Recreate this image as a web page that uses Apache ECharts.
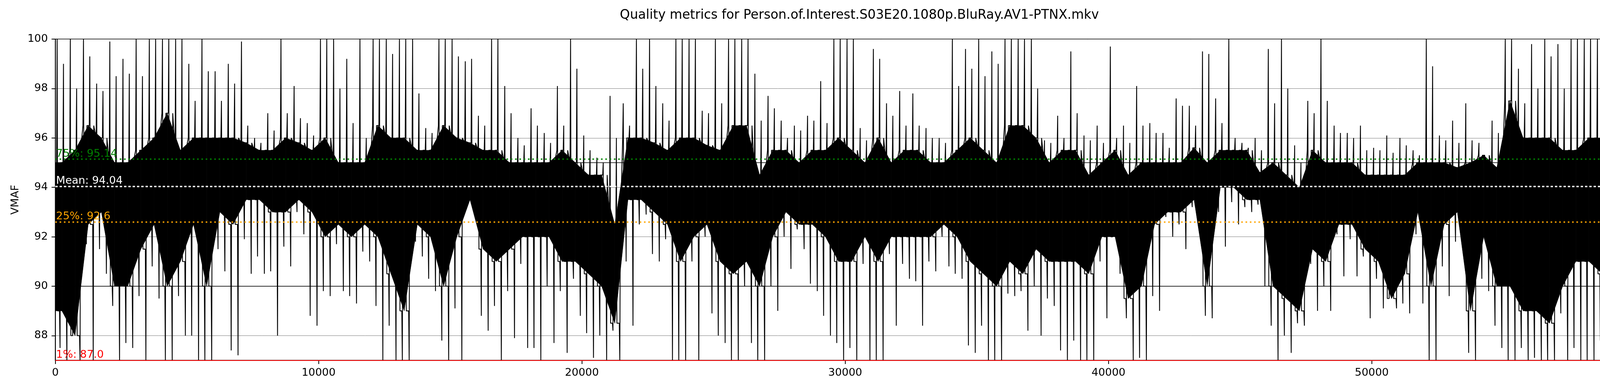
<!DOCTYPE html>
<html><head><meta charset="utf-8">
<script src="https://cdn.jsdelivr.net/npm/echarts@6/dist/echarts.min.js"></script>
<style>html,body{margin:0;padding:0;background:#fff}#c{width:4400px;height:1000px}</style>
</head><body><div id="c"></div>
<script>
const TITLE = 'Quality metrics for Person.of.Interest.S03E20.1080p.BluRay.AV1-PTNX.mkv';
const TOTAL_FRAMES = 62733;
const BIN = 500;
const xTicks = [0, 10000, 20000, 30000, 40000, 50000, 60000];
const yTicks = [88, 90, 92, 94, 96, 98, 100];
const MEAN = 94.04, P1 = 87.0, P25 = 92.6, P75 = 95.14;
const legendLines = ['Frames: 62733', 'Mean:94.04', '1%: 87.0', '25%: 92.6', '75%: 95.14'];

// per 500-frame bin: dense core band (low/high), highest and second-highest spike, lowest and second-lowest dip
const coreLow = [
 89,88,92.5,93,90,90,91.5,92.5,90,91,92.5,90,93,92.5,93.5,93.5,93,93,
 93.5,93,92,92.5,92,92.5,92,90.5,89,92.5,92,90,92,93.5,91.5,91,91.5,92,
 92,92,91,91,90.5,90,88.5,93.5,93.5,93,92.5,91,92,92.5,91,90.5,91,90,
 92,93,92.5,92.5,92,91,91,92,91,92,92,92,92,92.5,92,91,90.5,90,
 91,90.5,91.5,91,91,91,90.5,92,92,89.5,90,92.5,93,93,93.5,90,94,94,
 93.5,93.5,90,89.5,89,91.5,91,92.5,92.5,91.5,91,89.5,90.5,93,90,92.5,93,89,
 92,90,90,89,89,88.5,90,91,91,90.5,90.5,92,92.5,91,90,92,null,94];
const coreHigh = [
 95,95.5,96.5,96,95,95,95.5,96,97,95.5,96,96,96,96,95.8,95.5,95.5,96,
 95.8,95.5,96,95,95,95,96.5,96,96,95.5,95.5,96.5,96,95.8,95.5,95.5,95,95,
 95,95,95.5,95,94.5,94.5,92.5,96,96,95.8,95.5,96,96,95.7,95.5,96.5,96.5,94.5,
 95.5,95.5,95,95.5,95.5,96,95.5,95,96,95,95.5,95.5,95,95,95.5,96,95.5,95,
 96.5,96.5,96,95,95.5,95.5,94.5,95,95.5,94.5,95,95,95,95,95.6,95,95.5,95.5,
 95.5,94.6,95,94.5,94,95.5,95,95,95,94.5,94.5,94.5,94.5,95,95,95,94.8,95,
 95.3,94.8,97.5,96,96,96,95.5,95.5,96,96,96.5,95.5,95,95.5,96,96,null,96.5];
const spikeMax = [
 100,100,100,98.2,99.9,99.2,100,100,100,100,99,100,98.7,99,99.9,96,97,100,
 98.1,96.6,100,100,99.2,100,100,100,100,100,96.4,100,100,99.1,96.9,100,98.1,96,
 97.2,96.2,98.1,100,96.1,95.2,97.7,97.4,100,100,97.4,100,100,97.1,100,100,100,98.6,
 97.7,96.7,96.5,96.9,98.3,100,100,96.4,99.6,97.4,97.9,97.8,96.4,96,100,99.6,100,99.5,
 100,100,100,95.9,96.9,99.5,96.1,96.5,99.7,96.5,98.1,96.6,96.2,97.6,97.3,99.5,97.6,100,
 95.8,96,99.6,100,95.7,97.5,100,96.5,96.2,96.5,95.6,96.1,96,95.5,100,96.1,96.7,97.4,
 95.8,96.7,100,98.8,99.8,100,99.8,100,100,100,100,98.8,97.5,100,100,97.6,null,98.2];
const spikeMax2 = [
 99,98,99.3,97.9,98.5,98.6,98.5,100,100,100,97.5,98.7,97.5,98.2,96.5,95.8,96.3,97,
 96.8,96.1,100,98,96.6,96,100,99.4,100,97.8,96.2,100,99.3,99.2,96.5,100,97,95.7,
 96.5,95.8,96.5,98.8,95.5,95,96,96.5,98.8,98.1,96.7,100,100,97,97.4,100,100,96.7,
 97.2,96,96.3,96.7,96.6,100,100,95.9,99.2,96.9,96.5,96.5,96,95.8,98.1,98.8,98.5,99,
 100,100,98,95.8,96,97,95.9,95.8,96,95.8,96.5,96.2,95.6,97.3,96.5,99.4,96.6,96,
 95.6,95.5,97.4,98,95,97,97.5,96.2,96,95.5,95.5,95.4,95.7,95.3,98.9,95.9,95.8,95.9,
 95.3,96.2,100,97.4,98,99.3,98,100,100,99.1,100,96,96.6,96.7,99.7,97.4,null,96.8];
const spikeMin = [
 87,87,87,90.5,87,87.5,87,89.5,87,88,87,87,90.6,87.2,90.5,90.5,88,90.8,
 92.1,88.4,89.6,89.8,89.3,91,87,87,87,91.2,89.8,87,87,93,88.2,87,87.9,87.5,
 87,87.7,87.3,88.8,87.1,87,87,88.4,92.9,91,87,87,87,88.9,87.7,87,87.7,87,
 89,90.7,91.5,89.8,88,87,87,87,87,88.4,90.3,88.4,90.6,90.8,90.3,87.3,87,87,
 89.6,88.2,88,89.2,87,87,87,88.7,90.5,87,87,89,92,91.5,93,88.7,91.6,92.5,
 93,90,87,87.3,88.4,89,89,90.4,90.4,88.7,89.1,89.1,88.9,89.3,87,89.6,91.7,87,
 89.8,87.5,87,87,87,87,87,87,87,87.5,87,90.8,90.2,87,87,90.2,null,93.5];
const spikeMin2 = [
 87.5,88,91.7,91.5,89.2,87.7,89.6,90.8,87,89.6,88,87,91.5,87.4,91.9,91.2,90.6,91.6,
 93,88.8,89.8,91.7,89.6,91.4,89.2,88.4,87,91.8,90.3,87.8,89.1,93.5,88.8,89.2,89.8,90.9,
 87.5,90,89.8,90.3,88.1,88,88.2,91,92.5,91.3,91.9,87,91,92,88,87,90,87,
 90,92,92.3,90.1,88.8,87.7,87.5,90.9,87,91.3,90.9,90.2,91,92,90.5,87.6,88.4,87,
 89.7,89.8,90,89.5,87.4,87.8,87,91,92,88.7,87.1,89.6,92.8,92.5,93.2,88.8,93,93.4,
 93.2,93.3,88.4,88,88.5,90.9,90,92.1,91.9,91.2,90.3,89.5,89.3,92.1,87,90.8,91.8,87.3,
 90.3,88.4,87,87.5,87.1,87,88.9,87.5,87,87.8,88,92,90.8,90,87,90.6,null,94];
// nearly static stretch near the end of the file: [frame, VMAF]
const flatTail = [[61966,97.9],[62040,97.9],[62040,97.24],[62150,97.2],[62300,97.15],[62400,97.2],[62430,97.1],[62498,97.18]];

const FONT = 'DejaVu Sans';
const nB = coreLow.length;

// thin trace: core wiggle with two up needles and two down needles per bin
const trace = [];
const offs = [0.10, 0.14, 0.18, 0.32, 0.36, 0.40, 0.58, 0.62, 0.66, 0.84, 0.88, 0.92];
for (let i = 0; i < nB; i++) {
  const s = i * BIN, w = Math.min(BIN, TOTAL_FRAMES - s);
  if (coreLow[i] == null) { flatTail.forEach(p => trace.push(p)); continue; }
  const lo = coreLow[i], hi = coreHigh[i];
  const vals = [hi, spikeMax[i], lo, lo, spikeMin2[i], hi, hi, spikeMax2[i], lo, lo, spikeMin[i], hi];
  offs.forEach((f, k) => trace.push([s + w * f, vals[k]]));
}

// dense core band as polygons between bin centres
const bandPts = [];
for (let i = 0; i < nB; i++) {
  if (coreLow[i] == null) { bandPts.push(null); continue; }
  const s = i * BIN, w = Math.min(BIN, TOTAL_FRAMES - s);
  if (i === 0 || coreLow[i - 1] == null) bandPts.push([s, coreLow[i], coreHigh[i]]);
  bandPts.push([s + w / 2, coreLow[i], coreHigh[i]]);
  if (i === nB - 1 || coreLow[i + 1] == null) bandPts.push([s + w, coreLow[i], coreHigh[i]]);
}
const bandSegs = [];
for (let j = 0; j + 1 < bandPts.length; j++) {
  const a = bandPts[j], b = bandPts[j + 1];
  if (a && b) bandSegs.push([a[0], a[1], a[2], b[0], b[1], b[2]]);
}

const lblBase = {fontFamily: FONT, fontSize: 27.3, position: 'insideStartTop', distance: [2, 0]};

const chart = echarts.init(document.getElementById('c'));
chart.setOption({
  animation: false,
  backgroundColor: '#fff',
  title: {text: TITLE, left: 'center', top: 18,
    textStyle: {fontFamily: FONT, fontSize: 32.8, fontWeight: 'normal', color: '#000'}},
  grid: {left: 141.6, right: 30, top: 100, bottom: 78.5, show: true,
    borderColor: '#000', borderWidth: 2, backgroundColor: 'transparent'},
  xAxis: {type: 'value', min: 0, max: TOTAL_FRAMES, interval: 10000,
    axisLine: {show: true, onZero: false, lineStyle: {color: '#000', width: 2}},
    axisTick: {show: true, length: 9.6, customValues: xTicks, lineStyle: {color: '#000', width: 2}},
    axisLabel: {customValues: xTicks, formatter: v => String(v),
      fontFamily: FONT, fontSize: 27.3, color: '#000', margin: 19},
    splitLine: {show: false}},
  yAxis: {type: 'value', min: 87, max: 100, interval: 1,
    name: 'VMAF', nameLocation: 'middle', nameGap: 88,
    nameTextStyle: {fontFamily: FONT, fontSize: 27.3, color: '#000'},
    axisLine: {show: true, onZero: false, lineStyle: {color: '#000', width: 2}},
    axisTick: {show: true, length: 9.6, customValues: yTicks, lineStyle: {color: '#000', width: 2}},
    axisLabel: {customValues: yTicks, formatter: v => String(v),
      fontFamily: FONT, fontSize: 27.3, color: '#000', margin: 19},
    splitLine: {show: true, lineStyle: {color: '#7a7a7a', width: 1}}},
  graphic: [
    {type: 'rect', left: 4104, top: 729, z: 20,
      shape: {width: 253, height: 180, r: 6},
      style: {fill: 'rgba(255,255,255,0.8)', stroke: '#cccccc', lineWidth: 2}},
    {type: 'text', left: 4138, top: 735.5, z: 21,
      style: {text: legendLines.join('\n'), font: '27.3px "DejaVu Sans"', lineHeight: 32.5, fill: '#000'}}
  ],
  series: [
    {type: 'line', data: [], z: 1, silent: true,
      markLine: {symbol: 'none', silent: true, animation: false, label: {show: false},
        data: [{yAxis: 90}, {yAxis: 95}],
        lineStyle: {color: '#000', width: 1.6, type: 'solid'}}},
    {type: 'custom', z: 2, silent: true, data: bandSegs,
      encode: {x: [0, 3], y: [1, 2, 4, 5]},
      renderItem: (params, api) => {
        const p1 = api.coord([api.value(0), api.value(2)]);
        const p2 = api.coord([api.value(3), api.value(5)]);
        const p3 = api.coord([api.value(3), api.value(4)]);
        const p4 = api.coord([api.value(0), api.value(1)]);
        return {type: 'polygon', shape: {points: [p1, p2, p3, p4]},
          style: {fill: '#000', stroke: '#000', lineWidth: 0.8}};
      }},
    {type: 'line', data: trace, z: 3, silent: true, showSymbol: false, symbol: 'none',
      sampling: null, clip: true,
      lineStyle: {color: '#000', width: 2.2}},
    {type: 'line', data: [], z: 10, silent: true,
      markLine: {symbol: 'none', silent: true, animation: false,
        data: [
          {yAxis: P75, lineStyle: {color: '#008000', width: 3.5, type: [4, 7]},
            label: Object.assign({}, lblBase, {formatter: '75%: ' + P75.toFixed(2), color: '#008000'})},
          {yAxis: MEAN, lineStyle: {color: '#ffffff', width: 3.5, type: [6, 5]},
            label: Object.assign({}, lblBase, {formatter: 'Mean: ' + MEAN.toFixed(2), color: '#ffffff'})},
          {yAxis: P25, lineStyle: {color: '#ffa500', width: 3.5, type: [4, 7]},
            label: Object.assign({}, lblBase, {formatter: '25%: ' + P25.toFixed(1), color: '#ffa500'})},
          {yAxis: P1, lineStyle: {color: '#ff0000', width: 2.2, type: 'solid'},
            label: Object.assign({}, lblBase, {formatter: '1%: ' + P1.toFixed(1), color: '#ff0000'})}
        ]}}
  ]
});
</script></body></html>
